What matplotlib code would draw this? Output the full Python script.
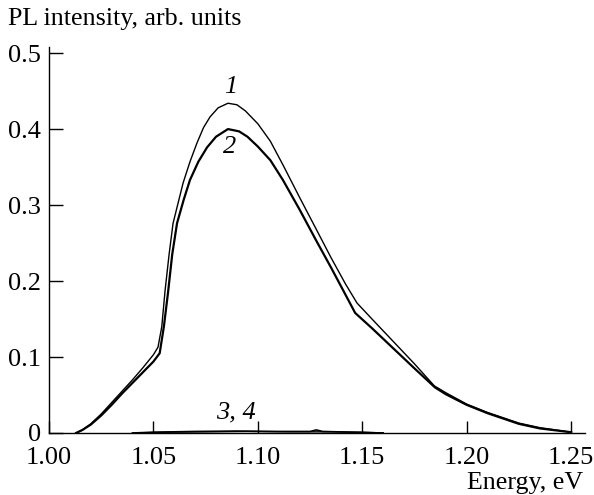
import matplotlib
matplotlib.use("Agg")
import matplotlib.pyplot as plt

# Curve data (energy in eV, PL intensity in arb. units)
energy_1 = [1.013, 1.016, 1.020, 1.025, 1.030, 1.035, 1.040, 1.045, 1.050, 1.0522,
            1.054, 1.0556, 1.0575, 1.0594, 1.0642, 1.0675, 1.0709, 1.074, 1.0771, 1.081,
            1.0857, 1.090, 1.094, 1.100, 1.106, 1.112, 1.120, 1.128, 1.135, 1.142,
            1.1475, 1.155, 1.165, 1.175, 1.1845, 1.190, 1.200, 1.210, 1.225, 1.235,
            1.250]
intensity_1 = [0.0, 0.004, 0.012, 0.025, 0.040, 0.055, 0.070, 0.086, 0.103, 0.113,
               0.140, 0.188, 0.235, 0.276, 0.329, 0.357, 0.382, 0.402, 0.416, 0.428,
               0.434, 0.432, 0.424, 0.407, 0.384, 0.353, 0.310, 0.268, 0.231, 0.196,
               0.171, 0.149, 0.120, 0.091, 0.062, 0.053, 0.038, 0.027, 0.013, 0.007,
               0.001]

energy_2 = [1.013, 1.016, 1.020, 1.025, 1.030, 1.035, 1.040, 1.045, 1.050, 1.053,
            1.055, 1.057, 1.059, 1.0613, 1.0645, 1.0675, 1.0715, 1.0757, 1.080, 1.0857,
            1.091, 1.095, 1.100, 1.106, 1.112, 1.120, 1.128, 1.135, 1.141,
            1.1466, 1.155, 1.165, 1.175, 1.1848, 1.190, 1.200, 1.210, 1.225, 1.235,
            1.250]
intensity_2 = [0.0, 0.004, 0.011, 0.023, 0.037, 0.052, 0.066, 0.080, 0.094, 0.105,
               0.140, 0.185, 0.235, 0.276, 0.307, 0.333, 0.357, 0.376, 0.390, 0.400,
               0.397, 0.390, 0.377, 0.359, 0.333, 0.294, 0.253, 0.218, 0.187,
               0.158, 0.137, 0.111, 0.085, 0.060, 0.051, 0.037, 0.026, 0.012, 0.006,
               0.001]

energy_3 = [1.040, 1.050, 1.070, 1.090, 1.110, 1.125, 1.128, 1.131, 1.145, 1.160]
intensity_3 = [0.0, 0.001, 0.002, 0.0025, 0.002, 0.002, 0.004, 0.002, 0.001, 0.0]
energy_4 = [1.040, 1.055, 1.075, 1.095, 1.115, 1.135, 1.150, 1.160]
intensity_4 = [0.0, 0.001, 0.0015, 0.002, 0.0015, 0.0015, 0.001, 0.0]

x_ticks = [1.00, 1.05, 1.10, 1.15, 1.20, 1.25]
x_tick_labels = ["1.00", "1.05", "1.10", "1.15", "1.20", "1.25"]
y_ticks = [0, 0.1, 0.2, 0.3, 0.4, 0.5]
y_tick_labels = ["0", "0.1", "0.2", "0.3", "0.4", "0.5"]

plt.rcParams["font.family"] = ["Liberation Serif", "DejaVu Serif"]

fig = plt.figure(figsize=(5.94, 4.95), dpi=100)
ax = fig.add_axes([0.0825, 0.1253, 0.9025, 0.7797])

ax.plot(energy_1, intensity_1, color="black", lw=1.0)
ax.plot(energy_2, intensity_2, color="black", lw=1.6)
ax.plot(energy_3, intensity_3, color="black", lw=1.2)
ax.plot(energy_4, intensity_4, color="black", lw=1.0)

ax.set_xlim(1.0, 1.2567)
ax.set_ylim(0, 0.508)
ax.set_xticks(x_ticks)
ax.set_xticklabels(x_tick_labels)
ax.set_yticks(y_ticks)
ax.set_yticklabels(y_tick_labels)

for side in ["top", "right"]:
    ax.spines[side].set_visible(False)
for side in ["left", "bottom"]:
    ax.spines[side].set_linewidth(1.0)

ax.tick_params(axis="x", direction="in", length=9, width=1.0, labelsize=19, pad=10)
ax.tick_params(axis="y", direction="in", length=10, width=1.0, labelsize=19, pad=6)

ax.text(1.0872, 0.455, "1", fontsize=19, style="italic", ha="center", va="center")
ax.text(1.0867, 0.376, "2", fontsize=19, style="italic", ha="center", va="center")
ax.text(1.0896, 0.0276, "3, 4", fontsize=19, style="italic", ha="center", va="center")

fig.text(0.0135, 0.9495, "PL intensity, arb. units", fontsize=18.7, ha="left", va="baseline")
fig.text(0.981, 0.0121, "Energy, eV", fontsize=18.7, ha="right", va="baseline")

fig.savefig("out.png", dpi=100)
